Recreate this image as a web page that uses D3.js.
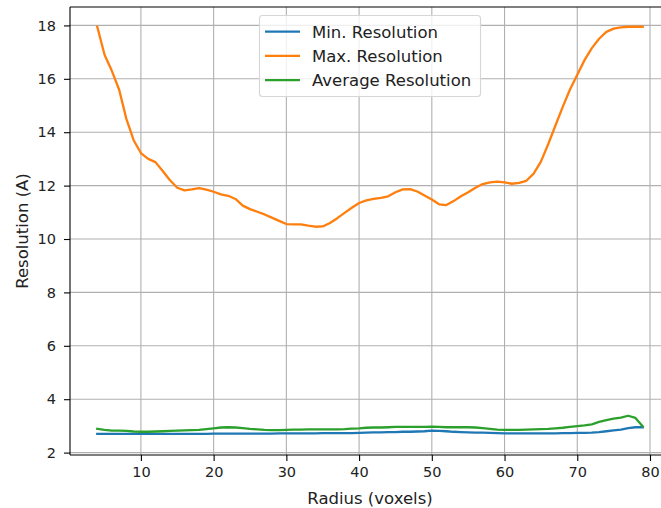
<!DOCTYPE html>
<html><head><meta charset="utf-8">
<script src="https://cdn.jsdelivr.net/npm/d3@7"></script>
<style>body{margin:0;background:#fff;}svg{display:block;font-family:"DejaVu Sans",sans-serif;}</style>
</head><body><svg id="c" width="661" height="508"></svg>
<script>
const radius = d3.range(4, 80);
const maxRes = [17.95,16.9,16.3,15.6,14.5,13.7,13.22,13.0,12.88,12.55,12.2,11.92,11.82,11.86,11.91,11.85,11.77,11.67,11.62,11.5,11.25,11.12,11.02,10.92,10.8,10.68,10.56,10.55,10.55,10.5,10.46,10.47,10.6,10.78,10.98,11.17,11.35,11.45,11.5,11.54,11.6,11.75,11.86,11.87,11.78,11.63,11.48,11.3,11.27,11.42,11.6,11.75,11.92,12.06,12.12,12.15,12.12,12.07,12.1,12.18,12.45,12.9,13.55,14.25,14.95,15.6,16.15,16.7,17.15,17.5,17.76,17.88,17.93,17.95,17.95,17.95];
const minRes = [2.70,2.70,2.70,2.70,2.70,2.70,2.70,2.70,2.70,2.70,2.70,2.70,2.70,2.70,2.70,2.70,2.71,2.71,2.71,2.71,2.71,2.71,2.71,2.71,2.71,2.72,2.72,2.72,2.72,2.72,2.72,2.73,2.73,2.73,2.73,2.73,2.74,2.75,2.76,2.76,2.77,2.77,2.78,2.78,2.79,2.80,2.82,2.81,2.80,2.78,2.77,2.76,2.75,2.75,2.74,2.73,2.72,2.72,2.72,2.72,2.72,2.72,2.72,2.72,2.73,2.73,2.74,2.74,2.75,2.77,2.80,2.83,2.86,2.92,2.95,2.95];
const avgRes = [2.89,2.85,2.82,2.82,2.81,2.79,2.78,2.78,2.79,2.80,2.81,2.82,2.83,2.84,2.85,2.88,2.91,2.94,2.95,2.94,2.92,2.89,2.87,2.85,2.84,2.84,2.85,2.86,2.86,2.87,2.87,2.87,2.87,2.87,2.88,2.90,2.91,2.93,2.94,2.94,2.95,2.96,2.96,2.96,2.96,2.96,2.97,2.96,2.95,2.95,2.95,2.95,2.94,2.92,2.89,2.86,2.85,2.85,2.85,2.86,2.87,2.88,2.89,2.91,2.93,2.96,2.99,3.02,3.06,3.15,3.22,3.27,3.31,3.38,3.30,2.98];
const xTicks = [10,20,30,40,50,60,70,80];
const yTicks = [2,4,6,8,10,12,14,16,18];
const seriesNames = ["Min. Resolution","Max. Resolution","Average Resolution"];
const colors = ["#1f77b4","#ff7f0e","#2ca02c"];

const L=70, R=670, T=7, B=455;
const svg = d3.select("#c");
const x = d3.scaleLinear().domain([0.25, 82.75]).range([L, R]);
const y = d3.scaleLinear().domain([1.91, 18.69]).range([B, T]);

// grid
const g = svg.append("g");
g.selectAll(".gx").data(xTicks).join("line").attr("x1",d=>x(d)).attr("x2",d=>x(d)).attr("y1",T).attr("y2",B).attr("stroke","#b0b0b0").attr("stroke-width",1.1);
g.selectAll(".gy").data(yTicks).join("line").attr("y1",d=>y(d)).attr("y2",d=>y(d)).attr("x1",L).attr("x2",R).attr("stroke","#b0b0b0").attr("stroke-width",1.1);

// axes
const xAxis = svg.append("g").attr("transform",`translate(0,${B})`).call(d3.axisBottom(x).tickValues(xTicks).tickSize(6).tickPadding(6).tickFormat(d3.format("d")));
const yAxis = svg.append("g").attr("transform",`translate(${L},0)`).call(d3.axisLeft(y).tickValues(yTicks).tickSize(6).tickPadding(8).tickFormat(d3.format("d")));
[xAxis,yAxis].forEach(a=>{a.select(".domain").remove();a.selectAll("text").attr("font-size",14.5).attr("fill","#222").attr("font-family","DejaVu Sans");a.selectAll("line").attr("stroke","#000").attr("stroke-width",1.1);});

// lines
const data = [minRes, maxRes, avgRes];
const line = d3.line().x((d,i)=>x(radius[i])).y(d=>y(d));
svg.append("defs").append("clipPath").attr("id","clip").append("rect").attr("x",L).attr("y",T).attr("width",R-L).attr("height",B-T);
const lg = svg.append("g").attr("clip-path","url(#clip)");
data.forEach((s,k)=>{lg.append("path").datum(s).attr("d",line).attr("fill","none").attr("stroke",colors[k]).attr("stroke-width",2.3).attr("stroke-linejoin","round").attr("stroke-linecap","square");});

// spines
svg.append("line").attr("x1",L).attr("x2",L).attr("y1",T).attr("y2",B).attr("stroke","#000").attr("stroke-width",1.1);
svg.append("line").attr("x1",L).attr("x2",R).attr("y1",B).attr("y2",B).attr("stroke","#000").attr("stroke-width",1.1);
svg.append("line").attr("x1",L).attr("x2",R).attr("y1",T).attr("y2",T).attr("stroke","#000").attr("stroke-width",1.1);
svg.append("line").attr("x1",R).attr("x2",R).attr("y1",T).attr("y2",B).attr("stroke","#000").attr("stroke-width",1.1);

// labels
svg.append("text").attr("x",370).attr("y",504).attr("text-anchor","middle").attr("font-size",16.5).attr("fill","#222").text("Radius (voxels)");
svg.append("text").attr("transform",`translate(28,${(T+B)/2}) rotate(-90)`).attr("text-anchor","middle").attr("font-size",16.5).attr("fill","#222").text("Resolution (A)");

// legend
const leg = svg.append("g");
leg.append("rect").attr("x",259.5).attr("y",15.5).attr("width",221).attr("height",81).attr("rx",3).attr("fill","#fff").attr("fill-opacity",0.8).attr("stroke","#d6d6d6").attr("stroke-width",1.1);
seriesNames.forEach((n,k)=>{
  const yy = 31.7 + k*24.2;
  leg.append("line").attr("x1",265).attr("x2",300).attr("y1",yy).attr("y2",yy).attr("stroke",colors[k]).attr("stroke-width",2.3);
  leg.append("text").attr("x",312).attr("y",yy+6).attr("font-size",16.5).attr("fill","#222").text(n);
});
</script></body></html>
